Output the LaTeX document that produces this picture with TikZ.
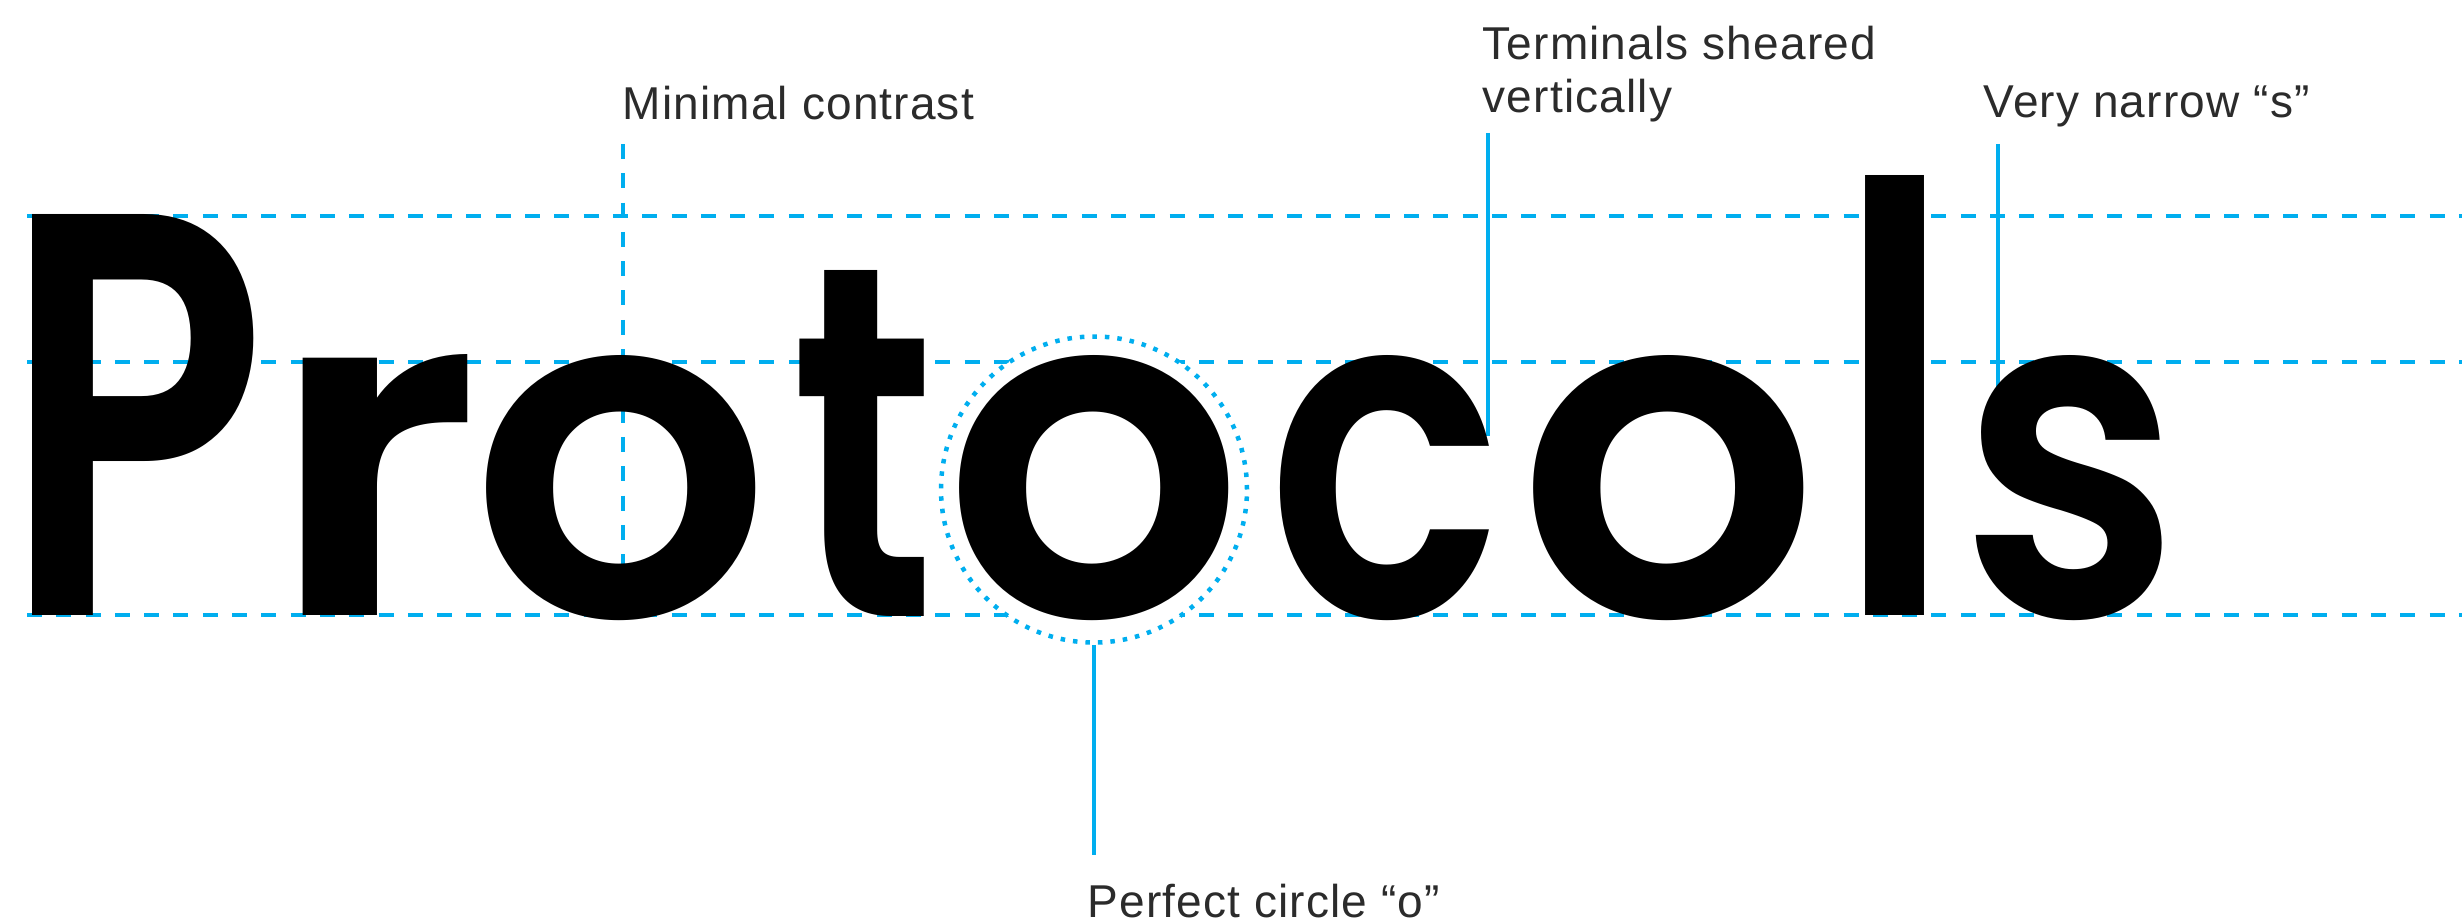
\documentclass[tikz,border=0pt]{standalone}
\usepackage{fontspec}
\usepackage{graphicx}
\setmainfont{Liberation Sans}[LetterSpace=2.5]
\newfontfamily\wordfont{Poppins SemiBold}

\definecolor{guide}{RGB}{0,174,239}
\definecolor{ink}{RGB}{43,43,43}

\tikzset{
  guideline/.style={guide, line width=0.32mm, dash pattern=on 1.5mm off 1.43mm},
  pointer/.style={guide, line width=0.4mm},
  ring/.style={circle, draw=guide, fill=white, line width=0.45mm,
    dash pattern=on 0.45mm off 0.8mm, minimum size=30.6mm, inner sep=0pt},
  note/.style={inner sep=0pt, text=ink, font=\fontsize{13.1}{15.1}\selectfont},
  glyph/.style={inner sep=0pt, anchor=base,
    font=\wordfont\fontsize{100}{100}\selectfont},
}

\begin{document}
\begin{tikzpicture}[x=0.1mm, y=-0.1mm]
    \useasboundingbox (0,0) rectangle (2462,923);

    % cap height, x-height and baseline
    \foreach \y in {216,362,615}
      \draw[guideline] (27,\y) -- (2462,\y);

    \node[ring] (ring) at (1094,489.5) {};

    % labels
    \node[note, anchor=base west] (contrast) at (622,120) {Minimal contrast};
    \node[note, anchor=north west, align=left] (terminals) at (1482,25)
      {Terminals sheared\\vertically};
    \node[note, anchor=base west] (narrow) at (1983,118) {Very narrow “s”};
    \node[note, anchor=base west] (perfect) at (1087,917) {Perfect circle “o”};

    \coordinate (contrasttip) at (623,565);
    \coordinate (termtop) at (1488,133);
    \coordinate (termtip) at (1488,436);
    \coordinate (narrowtop) at (1998,144);
    \coordinate (narrowtip) at (1998,421);

    \draw[guideline] ([shift={(1,24)}]contrast.base west) -- (contrasttip);
    \draw[pointer] (termtop) -- (termtip);
    \draw[pointer] (narrowtop) -- (narrowtip);
    \draw[pointer] (ring.south) -- ++(0,210);

    % the word, letter by letter (left, right, top, width factor, shift)
    \foreach \ch/\xl/\xr/\yt/\k/\dx [count=\i] in {P/27/251/215/1.18/-4,
        r/304/469/355/1.30/-13, o/487/756/355/1.12/0, t/799/928/270/1.13/0,
        o/960/1229/355/1.12/0, c/1280/1490/355/1.12/0, o/1534/1804/355/1.12/0,
        l/1865/1925/176/1.95/0, s/1982/2164/355/1.21/-2} {
      \pgfmathsetmacro\gw{(\xr-\xl)*0.1*\k}
      \pgfmathsetmacro\gh{(616-\yt)*0.1}
      \node[glyph] (g\i) at ({(\xl+\xr)/2+\dx},616) {\resizebox{\gw mm}{\gh mm}{\ch}};
    }
\end{tikzpicture}
\end{document}
